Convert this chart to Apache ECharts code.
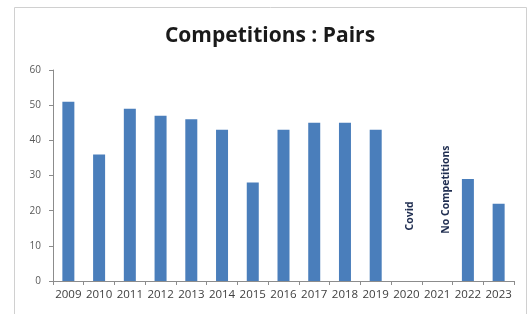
<!DOCTYPE html>
<html><head><meta charset="utf-8">
<script src="https://cdn.jsdelivr.net/npm/echarts@6/dist/echarts.min.js"></script>
<style>html,body{margin:0;padding:0;background:#fff}#c{width:529px;height:314px}</style>
</head><body><div id="c"></div>
<script>
const years = ['2009','2010','2011','2012','2013','2014','2015','2016','2017','2018','2019','2020','2021','2022','2023'];
const pairs = [51,36,49,47,46,43,28,43,45,45,43,null,null,29,22];
const yTicks = [0,10,20,30,40,50,60];
const notes = [
  {text:'Covid', year:'2020', value:18.5, dx:4},
  {text:'No Competitions', year:'2021', value:26, dx:9}
];
const chart = echarts.init(document.getElementById('c'));
chart.setOption({
  animation:false,
  backgroundColor:'#fff',
  title:{text:'Competitions : Pairs', left:265, top:21, textAlign:'center',
    textStyle:{fontFamily:'Open Sans', fontWeight:'bold', fontSize:21, color:'#1a1a1a'}},
  grid:{left:53, right:15, top:70, bottom:33},
  xAxis:{type:'category', data:years,
    axisLine:{lineStyle:{color:'#8c8c8c'}},
    axisTick:{show:true, alignWithLabel:false, length:4, lineStyle:{color:'#8c8c8c'}},
    axisLabel:{fontFamily:'Open Sans', fontSize:11.5, color:'#404040', margin:8, interval:0}},
  yAxis:{type:'value', min:yTicks[0], max:yTicks[yTicks.length-1], interval:10,
    axisLine:{show:true, lineStyle:{color:'#8c8c8c'}},
    axisTick:{show:true, length:4, lineStyle:{color:'#8c8c8c'}},
    splitLine:{show:false},
    axisLabel:{fontFamily:'Open Sans', fontSize:10, color:'#595959', margin:12}},
  series:[{type:'bar', data:pairs, barWidth:12, itemStyle:{color:'#4a7ebb'}}]
});
const g = [{type:'rect', shape:{x:14.5,y:7.5,width:512,height:320}, style:{fill:'none',stroke:'#d0d0d0',lineWidth:1}}];
notes.forEach(n=>{
  const p = chart.convertToPixel({seriesIndex:0}, [n.year, n.value]);
  g.push({type:'text', x:p[0]+n.dx, y:p[1], rotation:Math.PI/2,
    style:{text:n.text, align:'center', verticalAlign:'middle', font:'bold 10.5px "Open Sans"', fill:'#1f2d50'}});
});
chart.setOption({graphic:g});
</script></body></html>
